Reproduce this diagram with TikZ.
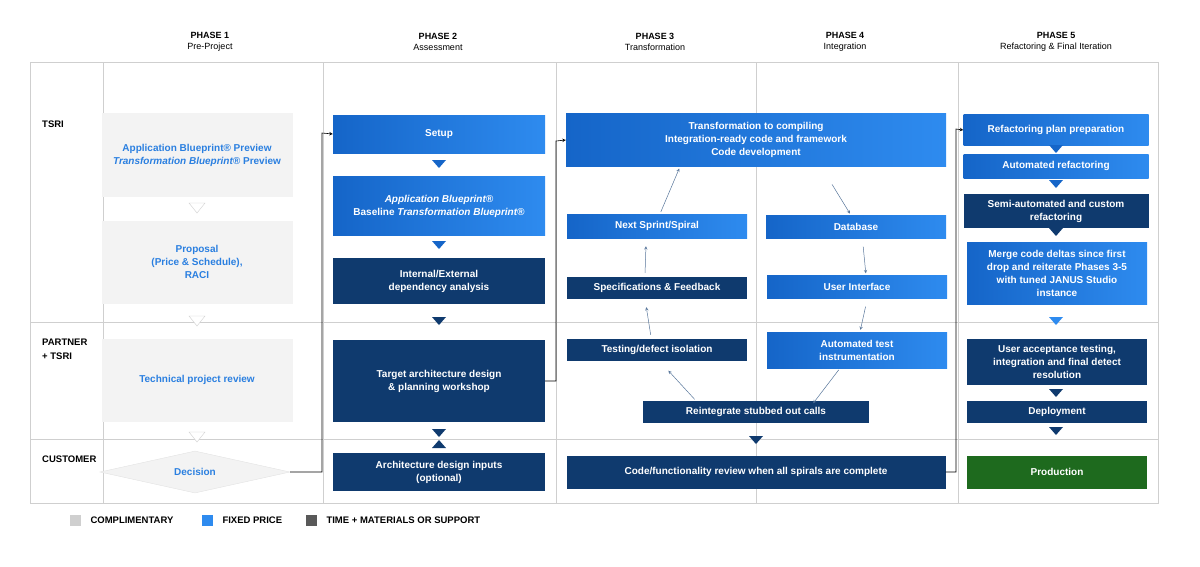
\documentclass[tikz,border=0pt]{standalone}
\usepackage{fontspec}
\setmainfont{Liberation Sans}
\usetikzlibrary{shapes.geometric}
\definecolor{fixblue}{HTML}{1565C8}
\definecolor{fixblueR}{HTML}{2E8BEF}
\definecolor{tmdark}{HTML}{0F3A6E}
\definecolor{compgray}{HTML}{F3F3F3}
\definecolor{txtblue}{HTML}{2A7FE0}
\definecolor{prodgreen}{HTML}{1E6A1E}
\definecolor{gridgray}{HTML}{CFCFCF}
\newcommand{\downtri}[3]{\fill[#3] (#1-7,#2-4) -- (#1+7,#2-4) -- (#1,#2+4) -- cycle;}
\newcommand{\uptri}[3]{\fill[#3] (#1-7,#2+4) -- (#1+7,#2+4) -- (#1,#2-4) -- cycle;}
\newcommand{\graytri}[2]{\draw[gridgray, fill=white] (#1-8,#2-5) -- (#1+8,#2-5) -- (#1,#2+5) -- cycle;}
\begin{document}
\begin{tikzpicture}[x=1pt, y=-1pt,
    box/.style={minimum width=#1, inner sep=1pt, align=center, text=white,
        font=\fontsize{10}{13}\selectfont\bfseries},
    fixed/.style={box=#1, left color=fixblue, right color=fixblueR},
    tm/.style={box=#1, fill=tmdark},
    comp/.style={minimum width=191, inner sep=1pt, align=center, fill=compgray, text=txtblue,
        font=\fontsize{10}{13}\selectfont\bfseries},
    head/.style={align=center, font=\fontsize{9}{11.5}\selectfont},
    lane/.style={anchor=north west, align=left, inner sep=0pt, font=\fontsize{9.5}{14}\selectfont\bfseries},
    flow/.style={->, >=stealth, black, line width=0.6pt},
    spiral/.style={->, >=stealth, tmdark!70, line width=0.5pt, shorten >=2pt, shorten <=2pt}]
    \useasboundingbox (0,0) rectangle (1200,566);

    % grid
    \draw[gridgray] (30,62) rectangle (1158,503);
    \foreach \x in {103,323,556,756,958} \draw[gridgray] (\x,62) -- (\x,503);
    \draw[gridgray] (30,322) -- (1158,322);
    \draw[gridgray] (30,439) -- (1158,439);

    % headers
    \node[head] (h1) at (210,42) {\textbf{PHASE 1}\\Pre-Project};
    \node[head] (h2) at (438,42) {\textbf{PHASE 2}\\Assessment};
    \node[head] (h3) at (655,42) {\textbf{PHASE 3}\\Transformation};
    \node[head] (h4) at (845,42) {\textbf{PHASE 4}\\Integration};
    \node[head] (h5) at (1056,42) {\textbf{PHASE 5}\\Refactoring \& Final Iteration};

    \node[lane] (tsri) at (42,121) {TSRI};
    \node[lane] (partner) at (42,339) {PARTNER\\+ TSRI};
    \node[lane] (customer) at (42,456) {CUSTOMER};

    % phase 1
    \node[comp, minimum height=84] (bp) at (197,155) {Application Blueprint® Preview\\\textit{Transformation Blueprint®} Preview};
    \node[comp, minimum height=83] (prop) at (197,262) {Proposal\\(Price \& Schedule),\\RACI};
    \node[comp, minimum height=83] (tech) at (197,380) {Technical project review};
    \node[diamond, aspect=4.5, inner sep=0pt, minimum width=190, minimum height=42, fill=compgray, draw=gridgray!60,
        text=txtblue, font=\fontsize{10}{13}\selectfont\bfseries] (dec) at (195,472) {Decision};
    \graytri{197}{208}
    \graytri{197}{321}
    \graytri{197}{437}

    % phase 2
    \node[fixed=212, minimum height=38] (setup) at (439,134) {Setup};
    \node[fixed=212, minimum height=59] (abp) at (439,206) {\textit{Application Blueprint®}\\Baseline \textit{Transformation Blueprint®}};
    \node[tm=212, minimum height=46] (dep) at (439,281) {Internal/External\\dependency analysis};
    \node[tm=212, minimum height=82] (target) at (439,381) {Target architecture design\\\& planning workshop};
    \node[tm=212, minimum height=38] (inputs) at (439,472) {Architecture design inputs\\(optional)};
    \downtri{439}{164}{fixblue}
    \downtri{439}{245}{fixblue}
    \downtri{439}{321}{tmdark}
    \downtri{439}{433}{tmdark}
    \uptri{439}{444}{tmdark}

    % phase 3 and 4
    \node[fixed=380, minimum height=53] (trans) at (756,140) {Transformation to compiling\\Integration-ready code and framework\\Code development};
    \node[fixed=180, minimum height=24] (next) at (657,226) {Next Sprint/Spiral};
    \node[fixed=180, minimum height=23] (db) at (856,227) {Database};
    \node[tm=180, minimum height=22] (spec) at (657,288) {Specifications \& Feedback};
    \node[fixed=180, minimum height=23] (ui) at (857,287) {User Interface};
    \node[tm=180, minimum height=22] (test) at (657,350) {Testing/defect isolation};
    \node[fixed=180, minimum height=36] (ate) at (857,350) {Automated test\\instrumentation};
    \node[tm=226, minimum height=22] (reint) at (756,412) {Reintegrate stubbed out calls};
    \node[tm=379, minimum height=33] (review) at (756,472) {Code/functionality review when all spirals are complete};
    \downtri{756}{440}{tmdark}

    \draw[spiral] (next.north) ++(3,0) -- ([xshift=-76pt]trans.south);
    \draw[spiral] (spec.north) ++(-12,-2) -- ([xshift=-11pt, yshift=-6pt]next.south);
    \draw[spiral] (test.north) ++(-6,-2) -- ([xshift=-11pt, yshift=-6pt]spec.south);
    \draw[spiral] ([xshift=-60pt]reint.north) -- ([xshift=10pt, yshift=-8pt]test.south);
    \draw[spiral] ([xshift=75pt, yshift=-16pt]trans.south) -- ([xshift=-5pt]db.north);
    \draw[spiral] ([xshift=7pt, yshift=-6pt]db.south) -- ([xshift=9pt]ui.north);
    \draw[spiral] ([xshift=9pt, yshift=-6pt]ui.south) -- ([xshift=3pt]ate.north);
    \draw[spiral] ([xshift=-17pt]ate.south) -- ([xshift=56pt, yshift=-4pt]reint.north);

    % phase 5
    \node[fixed=185, minimum height=31] (rplan) at (1056,130) {Refactoring plan preparation};
    \node[fixed=185, minimum height=24] (aref) at (1056,166) {Automated refactoring};
    \node[tm=185, minimum height=34] (semi) at (1056,211) {Semi-automated and custom\\refactoring};
    \node[fixed=180, minimum height=62] (merge) at (1057,273) {Merge code deltas since first\\drop and reiterate Phases 3-5\\with tuned JANUS Studio\\instance};
    \node[tm=180, minimum height=46] (uat) at (1057,362) {User acceptance testing,\\integration and final detect\\resolution};
    \node[tm=180, minimum height=22] (deploy) at (1057,412) {Deployment};
    \node[box=180, fill=prodgreen, minimum height=33] (prod) at (1057,472) {Production};
    \downtri{1056}{149}{fixblue}
    \downtri{1056}{184}{fixblue}
    \downtri{1056}{232}{tmdark}
    \downtri{1056}{321}{fixblueR}
    \downtri{1056}{393}{tmdark}
    \downtri{1056}{431}{tmdark}

    % phase links
    \draw[flow] (dec.east) -| (322,133) -- (setup.west);
    \draw[flow] (target.east) -| (556,141) -- (trans.west);
    \draw[flow] (review.east) -| (956,129) -- (rplan.west);

    % legend
    \fill[gridgray] (70,515) rectangle (81,526);
    \fill[fixblueR] (202,515) rectangle (213,526);
    \fill[black!65] (306,515) rectangle (317,526);
    \node[anchor=west, font=\fontsize{9.5}{11}\selectfont\bfseries] (lc) at (87,520.5) {COMPLIMENTARY};
    \node[anchor=west, font=\fontsize{9.5}{11}\selectfont\bfseries] (lf) at (219,520.5) {FIXED PRICE};
    \node[anchor=west, font=\fontsize{9.5}{11}\selectfont\bfseries] (lt) at (323,520.5) {TIME + MATERIALS OR SUPPORT};
\end{tikzpicture}
\end{document}
